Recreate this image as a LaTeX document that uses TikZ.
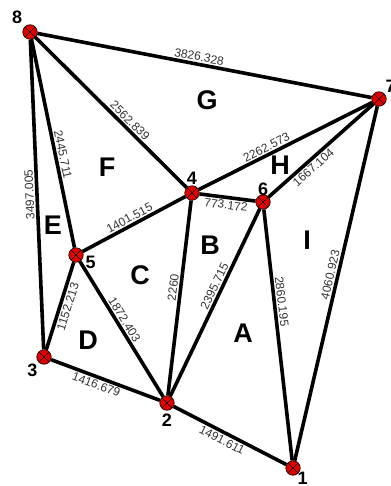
\documentclass[tikz,border=0pt]{standalone}
\usepackage{fontspec}
\setmainfont{Liberation Sans}
\usetikzlibrary{positioning}

\begin{document}
\begin{tikzpicture}[
x=1pt, y=-1pt,
vertex/.style={circle, draw=black, line width=0.6pt, fill=red!90!black, minimum size=14.5pt, inner sep=0pt,
  path picture={\draw[line width=0.6pt] (path picture bounding box.north west) -- (path picture bounding box.south east)
    (path picture bounding box.north east) -- (path picture bounding box.south west);}},
num/.style={font=\bfseries\fontsize{18}{18}\selectfont, inner sep=1pt},
edge/.style={line width=3.6pt},
len/.style={font=\fontsize{12}{12}\selectfont, text=black!80, sloped, inner sep=1.5pt},
region/.style={font=\bfseries\fontsize{27}{27}\selectfont}
]

\useasboundingbox (0,0) rectangle (390,486);

% vertices
\node[vertex] (v1) at (293,468) {};
\node[vertex] (v2) at (167,403) {};
\node[vertex] (v3) at (44,357) {};
\node[vertex] (v4) at (192,193) {};
\node[vertex] (v5) at (76,255) {};
\node[vertex] (v6) at (263,202) {};
\node[vertex] (v7) at (379,99) {};
\node[vertex] (v8) at (30,32) {};

% vertex numbers
\node[num, below right=-2pt and -2pt of v1] {1};
\node[num, below=2pt of v2] {2};
\node[num, below left=0pt of v3] {3};
\node[num, above=0pt of v4] {4};
\node[num, below right=-5pt and 3pt of v5] {5};
\node[num, above=-2pt of v6] {6};
\node[num, above right=0pt of v7] {7};
\node[num, above left=2pt of v8] {8};

% edges with lengths
\draw[edge] (v8) -- node[len, pos=0.48, above] {3826.328} (v7);
\draw[edge] (v8) -- node[len, pos=0.59, above] {2562.839} (v4);
\draw[edge] (v8) -- node[len, pos=0.56, above] {2445.711} (v5);
\draw[edge] (v3) -- node[len, pos=0.5, above, allow upside down] {3497.005} (v8);
\draw[edge] (v4) -- node[len, pos=0.41, above] {2262.573} (v7);
\draw[edge] (v6) -- node[len, pos=0.38, below] {1667.104} (v7);
\draw[edge] (v1) -- node[len, pos=0.52, above] {4060.923} (v7);
\draw[edge] (v5) -- node[len, pos=0.49, above] {1401.515} (v4);
\draw[edge] (v4) -- node[len, pos=0.49, below] {773.172} (v6);
\draw[edge] (v2) -- node[len, pos=0.55, above] {2260} (v4);
\draw[edge] (v2) -- node[len, pos=0.57, above] {2395.715} (v6);
\draw[edge] (v6) -- node[len, pos=0.37, above] {2860.195} (v1);
\draw[edge] (v3) -- node[len, pos=0.52, below] {1152.213} (v5);
\draw[edge] (v5) -- node[len, pos=0.46, above] {1872.403} (v2);
\draw[edge] (v3) -- node[len, pos=0.44, below] {1416.679} (v2);
\draw[edge] (v2) -- node[len, pos=0.46, below] {1491.611} (v1);

% regions
\node[region] (rA) at (243,333) {A};
\node[region] (rB) at (210,245) {B};
\node[region] (rC) at (140,275) {C};
\node[region] (rD) at (88,340) {D};
\node[region] (rE) at (53,225) {E};
\node[region] (rF) at (107,167) {F};
\node[region] (rG) at (207,100) {G};
\node[region] (rH) at (280,165) {H};
\node[region] (rI) at (307,240) {I};

\end{tikzpicture}
\end{document}
